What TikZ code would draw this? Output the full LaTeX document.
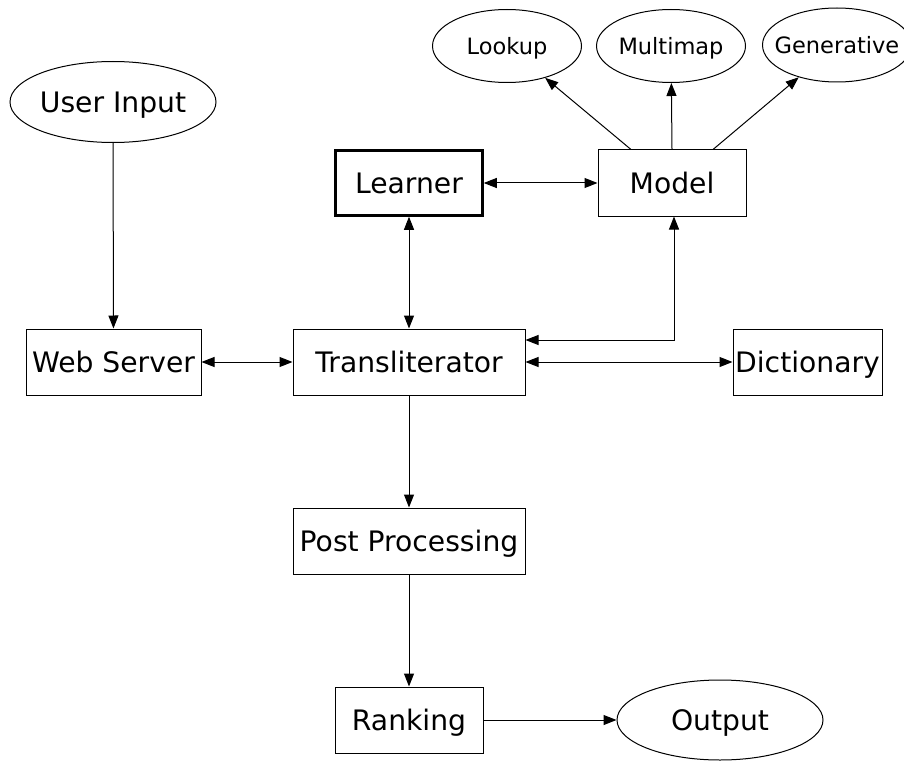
\documentclass[tikz,border=0pt]{standalone}
\usepackage{fontspec}
\setmainfont{DejaVu Sans}
\usetikzlibrary{arrows.meta,shapes.geometric}

\tikzset{
  big/.style={font=\fontsize{28.2}{33}\selectfont, text height=20.6pt, text depth=0pt},
  box/.style={draw, line width=1pt, rectangle, inner sep=0pt, anchor=center, big},
  oval/.style={draw, line width=1pt, ellipse, inner xsep=-15pt, inner ysep=-5pt,
               anchor=center, big},
  smalloval/.style={oval, font=\fontsize{22.5}{27}\selectfont, text height=16.4pt},
  link/.style={line width=1pt, -{Triangle[length=13pt,width=10pt]}},
  dlink/.style={line width=1pt, {Triangle[length=13pt,width=10pt]}-{Triangle[length=13pt,width=10pt]}}
}

\begin{document}
\begin{tikzpicture}[x=1pt,y=-1pt]
  \useasboundingbox (0,0) rectangle (904,762);

  % ellipses
  \node[oval, minimum width=206pt, minimum height=81pt] (user) at (113,102) {User Input};
  \node[smalloval, minimum width=149pt, minimum height=73pt] (lookup) at (507,46) {Lookup};
  \node[smalloval, minimum width=149pt, minimum height=73pt] (multimap) at (671,46) {Multimap};
  \node[smalloval, minimum width=149pt, minimum height=74pt] (gen) at (837,45) {Generative};
  \node[oval, minimum width=206pt, minimum height=80pt] (output) at (720,720) {Output};

  % boxes
  \node[box, line width=2.5pt, minimum width=147pt, minimum height=65pt] (learner) at (409,183) {Learner};
  \node[box, minimum width=148pt, minimum height=66pt] (model) at (672,183) {Model};
  \node[box, minimum width=175pt, minimum height=66pt] (web) at (113.5,362) {Web Server};
  \node[box, minimum width=232pt, minimum height=66pt] (trans) at (409,362) {Transliterator};
  \node[box, minimum width=149pt, minimum height=66pt] (dict) at (807.5,362) {Dictionary};
  \node[box, minimum width=232pt, minimum height=66pt] (post) at (409,541) {Post Processing};
  \node[box, minimum width=148pt, minimum height=66pt] (rank) at (409,720) {Ranking};

  % connectors
  \draw[link] (user) -- (web);
  \draw[dlink] (web) -- (trans);
  \draw[dlink] (learner) -- (trans);
  \draw[dlink] (learner) -- (model);
  \draw[link] ([xshift=-41pt]model.north) -- (lookup);
  \draw[link] (model.north) -- (multimap);
  \draw[link] ([xshift=41pt]model.north) -- (gen);
  \draw[dlink] ([yshift=22pt]trans.east) -| ([xshift=2pt]model.south);
  \draw[dlink] (trans) -- (dict);
  \draw[link] (trans) -- (post);
  \draw[link] (post) -- (rank);
  \draw[link] (rank) -- (output);
\end{tikzpicture}
\end{document}
